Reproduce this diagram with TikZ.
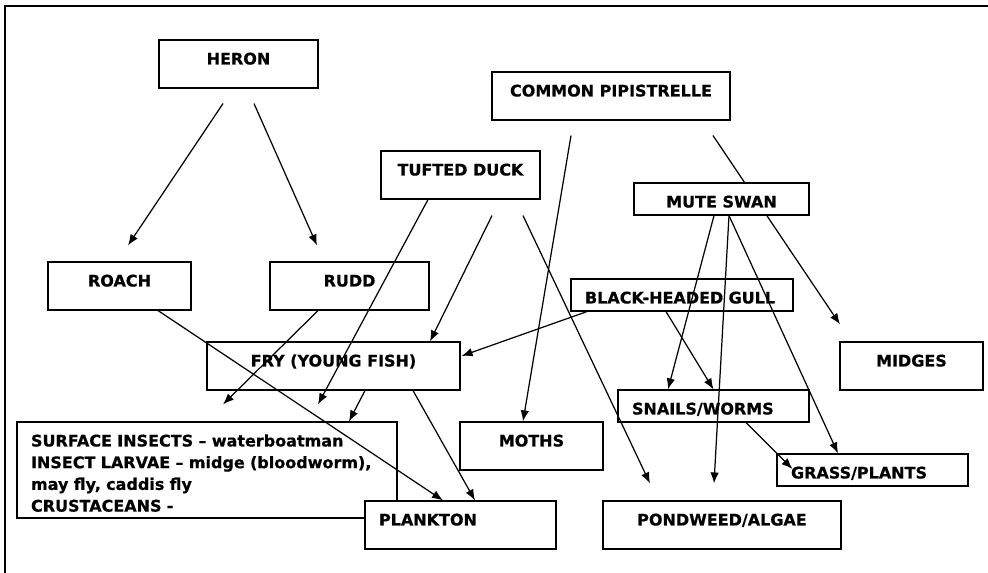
\documentclass[tikz,border=0pt]{standalone}
\usepackage{fontspec}
\setmainfont{DejaVu Sans}[BoldFeatures={FakeBold=0.6}]
\usepackage{tikz}
\usetikzlibrary{arrows.meta}
\pgfdeclarelayer{bg}
\pgfsetlayers{bg,main}

\begin{document}
\begin{tikzpicture}[
        x=0.02cm, y=-0.02cm,
        box/.style={rectangle,draw,fill=white,line width=0.65pt,inner xsep=0.28cm,inner ysep=0pt,
            text height=0.49cm,text depth=0.47cm,font=\bfseries\fontsize{9.1pt}{12.35pt}\selectfont},
        flatbox/.style={box,text depth=0.15cm},
        lbox/.style={align=left},
        arrow/.style={-{Latex[length=0.22cm,width=0.17cm]},line width=0.7pt},
        frame/.style={line width=1.2pt},
        ]
        \useasboundingbox (0,0) rectangle (988,573);
        \draw[frame] (5,573) -- (5,5.7) -- (988,5.7);

        % Predators
        \node[box,minimum width=3.18cm] (heron) at (238.5,64) {HERON};
        \node[box,minimum width=4.76cm] (pipistrelle) at (611,96) {COMMON PIPISTRELLE};
        \node[box,minimum width=3.18cm] (tufted) at (460.5,175) {TUFTED DUCK};
        \node[flatbox,minimum width=3.5cm] (swan) at (721.5,199) {MUTE SWAN};

        % Fish and birds
        \node[box,minimum width=2.86cm] (roach) at (119.5,286) {ROACH};
        \node[box,minimum width=3.18cm] (rudd) at (349.5,286) {RUDD};
        \node[flatbox,lbox,text width=3.88cm] (gull) at (682,295) {BLACK-HEADED GULL};
        \node[box,minimum width=5.06cm] (fry) at (333.5,366) {FRY (YOUNG FISH)};
        \node[box,minimum width=2.86cm] (midges) at (911.5,366) {MIDGES};

        % Small animals and plants
        \node[flatbox,lbox,text width=3.26cm] (snails) at (713.5,406) {SNAILS/WORMS};
        \node[box,minimum width=2.86cm] (moths) at (531.5,446) {MOTHS};
        \node[box,lbox,text width=7.04cm,text depth=1.43cm] (insects) at (207,470)
            {SURFACE INSECTS – waterboatman\\INSECT LARVAE – midge (bloodworm),\\may fly, caddis fly\\CRUSTACEANS -};
        \node[flatbox,lbox,text width=3.26cm] (grass) at (872.5,470) {GRASS/PLANTS};
        \node[box,lbox,text width=3.26cm] (plankton) at (460.5,525) {PLANKTON};
        \node[box,minimum width=4.76cm] (pondweed) at (722,525) {PONDWEED/ALGAE};

        % Line hidden behind the swan box
        \begin{pgfonlayer}{bg}
        \draw[arrow] ([shift={(102,15)}]pipistrelle.south) -- ([shift={(-71.5,-17)}]midges.north);
        \end{pgfonlayer}

        % Heron
        \draw[arrow] ([shift={(-15.5,15)}]heron.south) -- ([shift={(8.5,-16)}]roach.north);
        \draw[arrow] ([shift={(15.5,15)}]heron.south) -- ([shift={(-32.5,-16)}]rudd.north);

        % Tufted duck
        \draw[arrow] ([shift={(-32.5,0)}]tufted.south) -- ([shift={(111,-17)}]insects.north);
        \draw[arrow] ([shift={(31.5,16)}]tufted.south) -- ([shift={(96.5,0)}]fry.north);
        \draw[arrow] ([shift={(62.5,16)}]tufted.south) -- ([shift={(-72,-17)}]pondweed.north);

        % Common pipistrelle
        \draw[arrow] ([shift={(-40,15)}]pipistrelle.south) -- ([shift={(-8.5,0)}]moths.north);

        % Mute swan
        \draw[arrow] ([shift={(-7.5,0)}]swan.south) -- ([shift={(-45.5,0)}]snails.north);
        \draw[arrow] ([shift={(7.5,0)}]swan.south) -- ([shift={(-8,-17)}]pondweed.north);
        \draw[arrow] ([shift={(7.5,0)}]swan.south) -- ([shift={(-34.5,0)}]grass.north);

        % Black-headed gull
        \draw[arrow] ([shift={(-95,0)}]gull.south) -- ([shift={(1,-10)}]fry.east);
        \draw[arrow] ([shift={(-16,0)}]gull.south) -- (snails.north);

        % Roach, rudd and fry
        \draw[arrow] ([shift={(38.5,0)}]roach.south) -- ([shift={(-17.5,0)}]plankton.north);
        \draw[arrow] ([shift={(-31.5,0)}]rudd.south) -- ([shift={(16,-17)}]insects.north);
        \draw[arrow] ([shift={(31.5,0)}]fry.south) -- ([shift={(142,0)}]insects.north);
        \draw[arrow] ([shift={(79.5,0)}]fry.south) -- ([shift={(14.5,0)}]plankton.north);

        % Snails
        \draw[arrow] ([shift={(32.5,0)}]snails.south) -- ([shift={(16,-1)}]grass.west);
    \end{tikzpicture}
\end{document}
